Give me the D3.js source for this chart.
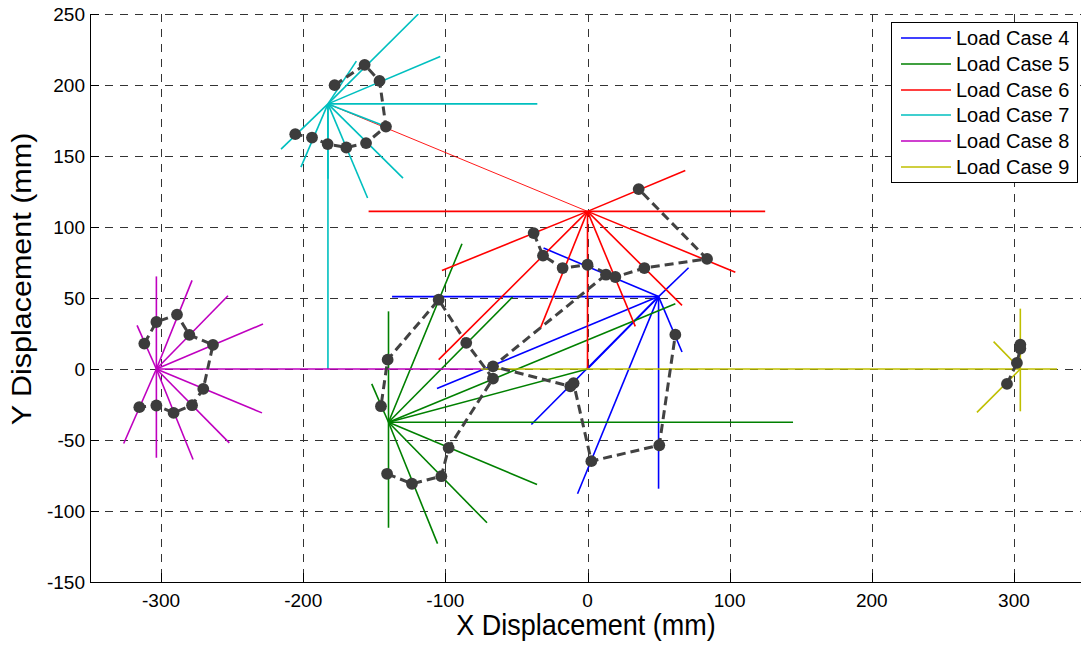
<!DOCTYPE html>
<html>
<head>
<meta charset="utf-8">
<script src="https://cdn.jsdelivr.net/npm/d3@7"></script>
<style>
  body { margin: 0; background: #fff; }
  svg { display: block; }
  text { font-family: "Liberation Sans", Arial, Helvetica, sans-serif; fill: #000; }
</style>
</head>
<body>
<svg id="chart" width="1081" height="647"></svg>
<script>
// Load case names and line colours
const loadCases = ["Load Case 4", "Load Case 5", "Load Case 6", "Load Case 7", "Load Case 8", "Load Case 9"];
const caseColors = ["#0000ff", "#008000", "#ff0000", "#00bfbf", "#bf00bf", "#bfbf00"];

// Axis ticks (mm)
const xTicks = [-300, -200, -100, 0, 100, 200, 300];
const yTicks = [-150, -100, -50, 0, 50, 100, 150, 200, 250];

// Displaced position of each load case (mm)
const centers = [[50, 51], [-140, -37.5], [0, 111], [-182.6, 186.7], [-303.3, 0], [304.5, 0]];

// Ray end points from each load-case position (mm)
const rays4 = [[-137.5, 51], [-30.9, 85.2], [71.1, 71.3], [66.5, 12.0], [50, -84.3], [-7, -87.9], [-39.5, -39.1], [-105.9, -13.8], [0, 0]];
const rays5 = [[144.6, -37.5], [-140, 40.6], [-140, -111.8], [-88.3, 88.2], [-52.7, 50.7], [61.8, 46], [0, 0], [-35.5, -81.3], [-70.7, -108.3], [-105.5, -123], [-151.8, -10.5]];
const rays6 = [[-154, 111], [125, 111], [68.8, 139.8], [-102.4, 69.4], [-104.7, 6.6], [-33.2, 28.6], [0, 0], [33.6, 30], [66.5, 44.8], [104, 68.2]];
const rays6Thin = [[-182.6, 186.7]];
const rays7 = [[-119, 250], [-162.6, 216.8], [-103.6, 220], [-35.3, 186.7], [-129.8, 134.4], [-154.7, 120.4], [-182.6, 0], [-182.6, 134], [-215.6, 154.8], [-201.6, 142.2], [-141.8, 170.7]];
const rays8 = [[-303.3, 65.2], [-303.3, -62.5], [-75, 0], [-278.2, 62.4], [-252.9, 51.6], [-228.3, 31.7], [-229, -30.9], [-252, -52], [-277.5, -63.7], [-326.3, -52.5], [-316.9, 30.7]];
const rays9 = [[304.5, 42.5], [304.5, -29.8], [330.3, 0], [-75, 0], [274, -30.5], [285.7, 19.3]];

// Boundary traces (dashed, with markers) in mm
const trace4 = [[13.0, 66.4], [-66.5, 1.9], [-12.1, -12.2], [-9.8, -10.0], [2.7, -64.9], [50.5, -53.7], [61.8, 24.2]];
const trace5 = [[-141, -73.8], [-123.5, -80.8], [-102.8, -75.5], [-97.7, -55.5], [-66.5, -6.8], [-85.3, 18.4], [-104.7, 48.8], [-140.6, 6.6], [-145.3, -26.2]];
const trace6 = [[-37.9, 95.7], [-31.3, 79.8], [-17.5, 71.1], [0, 73.4], [19.6, 64.8], [40, 71.1], [84.1, 77.5], [36, 126.7]];
const trace7 = [[-177.9, 199.9], [-156.8, 214.2], [-146.3, 202.9], [-141.8, 170.7], [-155.8, 159.1], [-169.7, 156.0], [-182.8, 158.4], [-193.8, 163.0], [-205.6, 165.4]];
const trace8 = [[-311.8, 17.9], [-303.3, 33.1], [-288.8, 38.3], [-280.1, 24.0], [-263.5, 17.0], [-270.3, -14.0], [-278.2, -25.5], [-291.2, -30.9], [-303.3, -25.7], [-315.3, -26.9]];
const trace9 = [[295.1, -10.5], [302.1, 4.3], [304.5, 14.4], [304.5, 17.2]];

const allRays = [rays4, rays5, rays6, rays7, rays8, rays9];
const allTraces = [trace4, trace5, trace6, trace7, trace8, trace9];

(function draw() {
  const svg = d3.select("#chart");
  const pLeft = 90, pRight = 1085, pTop = 14, pBottom = 582;

  const x = d3.scaleLinear().domain([-350, 350]).range([pLeft, pRight]);
  const y = d3.scaleLinear().domain([-150, 250]).range([pBottom, pTop]);

  svg.append("defs").append("clipPath").attr("id", "plotClip")
    .append("rect").attr("x", pLeft).attr("y", pTop).attr("width", pRight - pLeft).attr("height", pBottom - pTop);

  // Grid
  const grid = svg.append("g").attr("stroke", "#333").attr("stroke-width", 1).attr("stroke-dasharray", "8,7");
  grid.selectAll("line.vx").data(xTicks).join("line")
    .attr("x1", d => Math.round(x(d)) + 0.5).attr("x2", d => Math.round(x(d)) + 0.5)
    .attr("y1", pTop).attr("y2", pBottom);
  grid.selectAll("line.hy").data(yTicks.filter(d => d !== -150)).join("line")
    .attr("y1", d => Math.round(y(d)) + 0.5).attr("y2", d => Math.round(y(d)) + 0.5)
    .attr("x1", pLeft).attr("x2", pRight);

  const plot = svg.append("g").attr("clip-path", "url(#plotClip)");

  // Rays from each load-case position
  allRays.forEach((rays, i) => {
    const c = centers[i];
    plot.append("g").selectAll("line").data(rays).join("line")
      .attr("x1", x(c[0])).attr("y1", y(c[1]))
      .attr("x2", d => x(d[0])).attr("y2", d => y(d[1]))
      .attr("stroke", caseColors[i]).attr("stroke-width", 1.6);
    if (i === 2) {
      plot.append("g").selectAll("line").data(rays6Thin).join("line")
        .attr("x1", x(c[0])).attr("y1", y(c[1]))
        .attr("x2", d => x(d[0])).attr("y2", d => y(d[1]))
        .attr("stroke", caseColors[i]).attr("stroke-width", 0.9);
    }
  });

  // Dashed boundary traces with markers
  const lineGen = d3.line().x(d => x(d[0])).y(d => y(d[1]));
  allTraces.forEach(tr => {
    plot.append("path").datum(tr).attr("d", lineGen)
      .attr("fill", "none").attr("stroke", "#424242").attr("stroke-width", 3)
      .attr("stroke-dasharray", "9,5");
  });
  allTraces.forEach(tr => {
    plot.append("g").selectAll("circle").data(tr).join("circle")
      .attr("cx", d => x(d[0])).attr("cy", d => y(d[1])).attr("r", 5.9)
      .attr("fill", "#3c3c3c");
  });

  // Axes lines and inward ticks
  const ax = svg.append("g").attr("stroke", "#000").attr("stroke-width", 1);
  ax.append("line").attr("x1", pLeft + 0.5).attr("x2", pLeft + 0.5).attr("y1", pTop).attr("y2", pBottom + 0.5);
  ax.append("line").attr("x1", pLeft).attr("x2", pRight).attr("y1", pBottom + 0.5).attr("y2", pBottom + 0.5);
  ax.selectAll("line.yt").data(yTicks).join("line")
    .attr("x1", pLeft).attr("x2", pLeft + 9)
    .attr("y1", d => Math.round(y(d)) + 0.5).attr("y2", d => Math.round(y(d)) + 0.5);
  ax.selectAll("line.xt").data(xTicks).join("line")
    .attr("y1", pBottom).attr("y2", pBottom - 9)
    .attr("x1", d => Math.round(x(d)) + 0.5).attr("x2", d => Math.round(x(d)) + 0.5);

  // Tick labels
  svg.append("g").selectAll("text").data(yTicks).join("text")
    .attr("x", pLeft - 5).attr("y", d => y(d)).attr("dy", "0.36em")
    .attr("text-anchor", "end").attr("font-size", 19).text(d => d);
  svg.append("g").selectAll("text").data(xTicks).join("text")
    .attr("x", d => x(d)).attr("y", 606.5)
    .attr("text-anchor", "middle").attr("font-size", 19).text(d => d);

  // Axis titles
  svg.append("text").attr("transform", "translate(586,635) scale(1,1.06)").attr("text-anchor", "middle")
    .attr("font-size", 27).text("X Displacement (mm)");
  svg.append("text").attr("transform", "translate(31,279) rotate(-90) scale(1.13,1)").attr("text-anchor", "middle")
    .attr("font-size", 27).text("Y Displacement (mm)");

  // Legend
  const lg = svg.append("g");
  lg.append("rect").attr("x", 891.5).attr("y", 22.5).attr("width", 186).attr("height", 160)
    .attr("fill", "#fff").attr("stroke", "#000").attr("stroke-width", 1);
  const rowY = i => Math.round(38 + i * 25.8);
  lg.selectAll("line").data(loadCases).join("line")
    .attr("x1", 901).attr("x2", 951)
    .attr("y1", (d, i) => rowY(i)).attr("y2", (d, i) => rowY(i))
    .attr("stroke", (d, i) => caseColors[i]).attr("stroke-width", 1.5);
  lg.selectAll("text").data(loadCases).join("text")
    .attr("x", 956).attr("y", (d, i) => rowY(i)).attr("dy", "0.36em")
    .attr("font-size", 20).text(d => d);
})();
</script>
</body>
</html>
